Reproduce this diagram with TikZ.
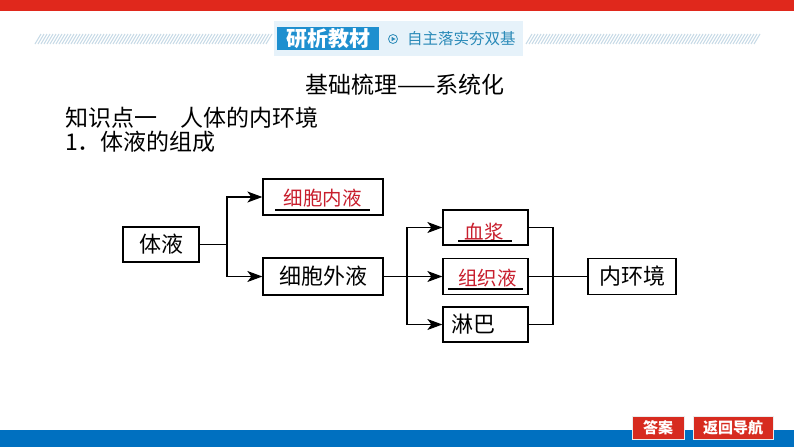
\documentclass[tikz,border=0pt]{standalone}
\usepackage{fontspec}
\setmainfont{Liberation Serif}
\newfontfamily\cjk{Noto Sans CJK SC}
\usetikzlibrary{arrows.meta,calc}
\definecolor{redtxt}{RGB}{200,30,45}
\definecolor{topred}{RGB}{224,40,28}
\definecolor{botblue}{RGB}{0,112,192}
\definecolor{hdrblue}{RGB}{30,143,207}
\definecolor{hdrlight}{RGB}{230,242,250}
\definecolor{hdrtext}{RGB}{42,138,184}
\definecolor{hatch}{RGB}{197,217,230}
\definecolor{btnred}{RGB}{215,43,31}
\tikzset{
  boxnode/.style={draw=black, line width=1.3pt, inner sep=0pt, font=\cjk\fontsize{22}{24}\selectfont},
  redlabel/.style={inner sep=0pt, text=redtxt, font=\cjk\fontsize{19.5}{22}\selectfont},
  uline/.style={line width=1.2pt, black},
  conn/.style={line width=1.2pt, black},
  arr/.style={conn, -{Stealth[length=15pt,width=11pt,inset=4pt]}},
  plaintext/.style={inner sep=0pt, anchor=west, font=\cjk\fontsize{23}{25}\selectfont},
  btn/.style={fill=btnred, draw=white!85!gray, line width=0.8pt, text=white, inner sep=0pt, font=\cjk\bfseries\fontsize{15}{17}\selectfont},
  hatchline/.style={hatch, line width=1pt}
}
\begin{document}
\begin{tikzpicture}[x=1pt,y=-1pt]
\useasboundingbox (0,0) rectangle (794,447);
\fill[white] (0,0) rectangle (794,447);
% top red bar and bottom blue bar
\fill[topred] (0,0) rectangle (794,11);
\fill[botblue] (0,430) rectangle (794,447);
% header
\foreach \x in {35,38,...,266} {\draw[hatchline] (\x,44) -- (\x+6,34);}
\foreach \x in {526,529,...,754} {\draw[hatchline] (\x,44) -- (\x+6,34);}
\fill[hdrlight] (274,21) rectangle (523,56);
\node[fill=hdrblue, minimum width=102pt, minimum height=23pt, inner sep=0pt, text=white,
      font=\cjk\bfseries\fontsize{21}{23}\selectfont] (hdr) at (328,38.5) {研析教材};
\node[draw=hdrtext, circle, line width=0.8pt, minimum size=9pt, inner sep=0pt] (icon) at (393,39) {};
\fill[hdrtext] ($(icon.center)+(-1.5,-2.2)$) -- ($(icon.center)+(2.5,0)$) -- ($(icon.center)+(-1.5,2.2)$) -- cycle;
\node[inner sep=0pt, anchor=west, text=hdrtext, font=\cjk\fontsize{15.5}{17}\selectfont] (hdrsub) at (407,39) {自主落实夯双基};
% headings
\node[inner sep=0pt, font=\cjk\fontsize{23}{25}\selectfont] (title) at (405,85) {基础梳理——系统化};
\node[plaintext] (kp) at (65,118) {知识点一　人体的内环境};
\node[plaintext] (sub) at (65,142) {1．体液的组成};
% diagram boxes
\node[boxnode, minimum width=76pt, minimum height=35pt] (tiye) at (161,244.5) {体液};
\node[boxnode, minimum width=120pt, minimum height=36pt] (xbnye) at (323,197) {};
\node[boxnode, minimum width=120pt, minimum height=37pt] (xbwye) at (323,276.5) {细胞外液};
\node[boxnode, minimum width=85pt, minimum height=35pt] (xj) at (485.5,227.5) {};
\node[boxnode, minimum width=85pt, minimum height=36pt] (zzy) at (485.5,276.5) {};
\node[boxnode, minimum width=85pt, minimum height=35pt, text width=68pt, align=left, inner xsep=8.5pt] (lb) at (485.5,324.5) {淋巴};
\node[boxnode, minimum width=88pt, minimum height=36pt] (nhj) at (632,276.5) {内环境};
% red answers with underlines
\node[redlabel] (t1) at (322.5,198) {细胞内液};
\draw[uline] (275,210) -- (370,210);
\node[redlabel] (t2) at (484,232) {血浆};
\draw[uline] (458,241) -- (512,241);
\node[redlabel] (t3) at (487.5,278) {组织液};
\draw[uline] (448,289) -- (523,289);
% connectors
\coordinate (b1) at (227,244.5);
\draw[conn] (tiye.east) -- (b1);
\draw[arr] (b1) |- (xbnye.west);
\draw[arr] (b1) |- (xbwye.west);
\coordinate (b2) at (407,276.5);
\draw[conn] (xbwye.east) -- (b2);
\draw[arr] (b2) |- (xj.west);
\draw[arr] (b2) -- (zzy.west);
\draw[arr] (b2) |- (lb.west);
\coordinate (b3) at (553,276.5);
\draw[conn] (xj.east) -| (b3);
\draw[conn] (lb.east) -| (b3);
\draw[conn] (zzy.east) -- (nhj.west);
% buttons
\node[btn, minimum width=52pt, minimum height=23pt] (ans) at (658,427.5) {答案};
\node[btn, minimum width=80pt, minimum height=23pt] (nav) at (733,427.5) {返回导航};
\end{tikzpicture}
\end{document}
